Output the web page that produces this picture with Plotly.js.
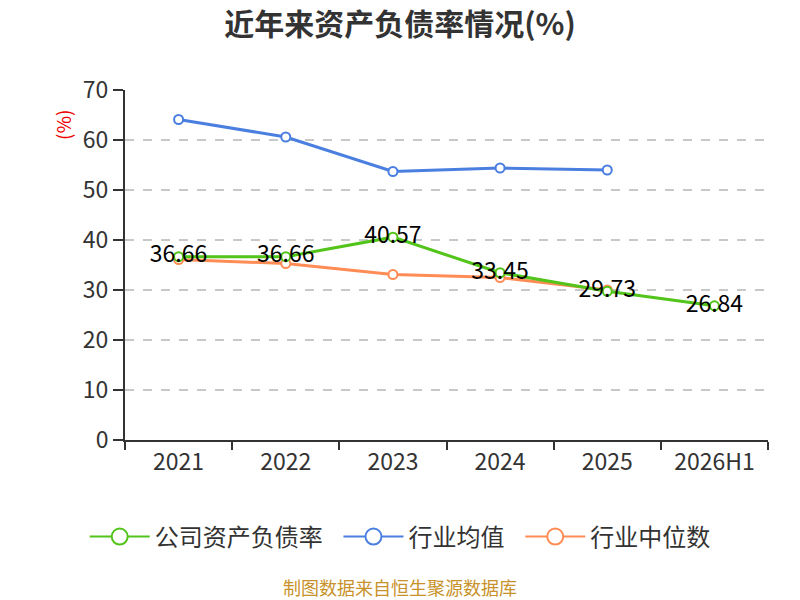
<!DOCTYPE html>
<html>
<head>
<meta charset="utf-8">
<script src="https://cdn.plot.ly/plotly-3.0.1.min.js"></script>
<style>body{margin:0;background:#fff}#chart{width:800px;height:600px}</style>
</head>
<body>
<div id="chart"></div>
<script>
// years and ratios
var years = ["2021", "2022", "2023", "2024", "2025", "2026H1"];
var company = [36.66, 36.66, 40.57, 33.45, 29.73, 26.84];
var industryAvg = [64.1, 60.6, 53.7, 54.4, 54.0, null];
var industryMedian = [36.1, 35.3, 33.1, 32.5, 30.0, null];
var companyLabels = ["36.66", "36.66", "40.57", "33.45", "29.73", "26.84"];

var names = ['公司资产负债率', '行业均值', '行业中位数'];
var colors = ['#52c41a', '#4a7fe0', '#ff8c55'];

var font = '"Noto Sans CJK SC", "Noto Sans", sans-serif';

function series(i, y) {
    return {
        x: years,
        y: y,
        name: names[i],
        type: 'scatter',
        mode: 'lines+markers',
        line: {color: colors[i], width: 3},
        marker: {color: '#fff', size: 9, line: {color: colors[i], width: 2}},
        showlegend: false,
        hoverinfo: 'x+y'
    };
}

// legend-only entries so the legend circles can be bigger than the point markers
function legendEntry(i, pad) {
    return {
        x: [years[0]],
        y: [null],
        name: names[i] + pad,
        type: 'scatter',
        mode: 'lines+markers',
        line: {color: colors[i], width: 2},
        marker: {color: '#fff', size: 20, line: {color: colors[i], width: 2}},
        hoverinfo: 'skip'
    };
}

var comp = series(0, company);
comp.mode = 'lines+markers+text';
comp.text = companyLabels;
comp.textposition = 'middle center';
comp.textfont = {family: font, size: 23, color: '#000'};

var avg = series(1, industryAvg);
var med = series(2, industryMedian);

var gap = '\u00a0\u00a0';
var data = [avg, med, comp, legendEntry(0, gap), legendEntry(1, gap), legendEntry(2, '')];

var layout = {
    width: 800,
    height: 600,
    margin: {l: 125, r: 32, t: 90, b: 160},
    paper_bgcolor: '#fff',
    plot_bgcolor: '#fff',
    font: {family: font, color: '#333'},
    title: {
        text: '<b>近年来资产负债率情况(%)</b>',
        x: 0.5, xanchor: 'center',
        y: 0.96, yanchor: 'middle',
        font: {size: 30, color: '#333', family: font}
    },
    showlegend: true,
    legend: {
        orientation: 'h',
        x: 0.428, xanchor: 'center',
        y: -0.277, yanchor: 'middle',
        font: {size: 24, color: '#333'},
        traceorder: 'normal',
        itemwidth: 60
    },
    xaxis: {
        type: 'category',
        categoryorder: 'array',
        categoryarray: years,
        range: [-0.5, 5.5],
        autorange: false,
        showline: true,
        linecolor: '#333',
        linewidth: 2,
        ticks: 'outside',
        tickson: 'boundaries',
        ticklen: 8,
        tickwidth: 2,
        tickcolor: '#333',
        showgrid: false,
        tickfont: {size: 23, color: '#333'},
        fixedrange: true
    },
    yaxis: {
        range: [0, 70],
        dtick: 10,
        showline: true,
        linecolor: '#333',
        linewidth: 2,
        ticks: 'outside',
        ticklen: 10,
        tickwidth: 2,
        tickcolor: '#333',
        showgrid: true,
        gridcolor: '#c8c8c8',
        griddash: 'dash',
        gridwidth: 1.5,
        zeroline: false,
        tickfont: {size: 23, color: '#333'},
        fixedrange: true
    },
    annotations: [
        {
            text: '(%)',
            xref: 'paper', yref: 'paper',
            x: -0.098, y: 0.9,
            xanchor: 'center', yanchor: 'middle',
            textangle: -90,
            showarrow: false,
            font: {size: 19, color: '#e00'}
        },
        {
            text: '制图数据来自恒生聚源数据库',
            xref: 'paper', yref: 'paper',
            x: 0.427, y: -0.42,
            xanchor: 'center', yanchor: 'middle',
            showarrow: false,
            font: {size: 18, color: '#c8922a'}
        }
    ]
};

Plotly.newPlot('chart', data, layout, {displayModeBar: false, staticPlot: true});
</script>
</body>
</html>
